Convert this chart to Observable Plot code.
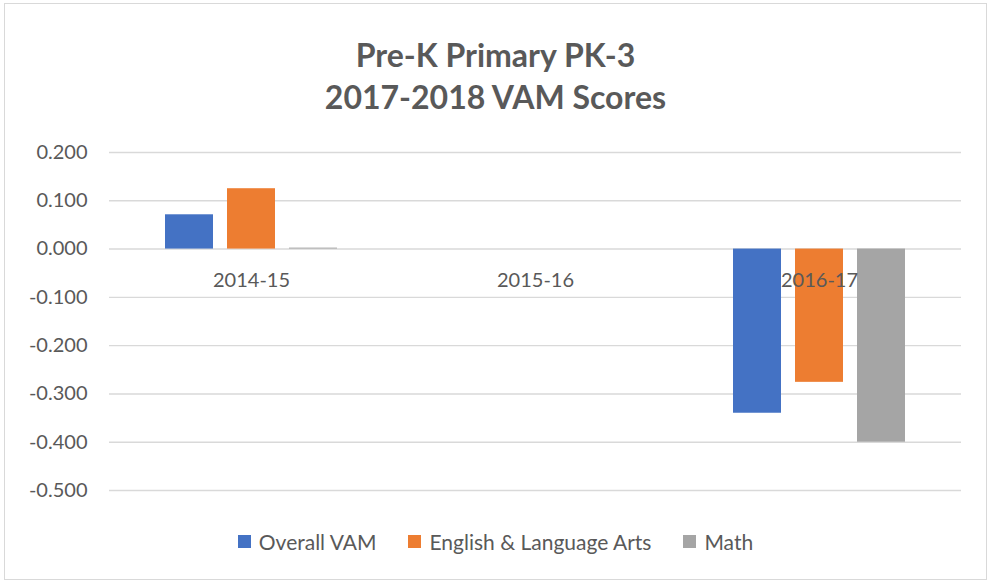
<!DOCTYPE html>
<html>
<head>
<meta charset="utf-8">
<script src="https://cdn.jsdelivr.net/npm/d3@7"></script>
<script src="https://cdn.jsdelivr.net/npm/@observablehq/plot@0.6"></script>
<style>
  body { margin: 0; background: #fff; }
  #wrap { position: relative; width: 991px; height: 583px; font-family: Lato, "Open Sans", sans-serif; color: #595959; overflow: hidden; }
  #frame { position: absolute; left: 4px; top: 3px; width: 983px; height: 577px; border: 1px solid #d9d9d9; box-sizing: border-box; }
  #chart { position: absolute; left: 0; top: 0; }
  #title { position: absolute; left: 0; width: 991px; top: 34px; text-align: center; font-weight: bold; font-size: 32px; line-height: 42px; }
  #legend { position: absolute; left: 0; width: 991px; top: 529px; display: flex; justify-content: center; gap: 32px; font-size: 21px; }
  #legend span.item { display: flex; align-items: center; }
  #legend span.sw { display: inline-block; width: 13px; height: 13px; margin-right: 8px; }
</style>
</head>
<body>
<div id="wrap">
  <div id="frame"></div>
  <div id="chart"></div>
  <div id="title">Pre-K Primary PK-3<br>2017-2018 VAM Scores</div>
  <div id="legend"></div>
</div>
<script>
const years = ["2014-15", "2015-16", "2016-17"];
const series = ["Overall VAM", "English & Language Arts", "Math"];
const overallVAM = [0.071, null, -0.340];
const englishLA = [0.125, null, -0.276];
const math = [0.002, null, -0.400];
const colors = ["#4472C4", "#ED7D31", "#A5A5A5"];
const yTicks = [0.2, 0.1, 0.0, -0.1, -0.2, -0.3, -0.4, -0.5];

const seriesValues = [overallVAM, englishLA, math];
const rows = [];
years.forEach((yr, i) => {
  series.forEach((s, j) => {
    const v = seriesValues[j][i];
    if (v !== null) rows.push({ year: yr, series: s, value: v });
  });
});

const chart = Plot.plot({
  width: 991,
  height: 583,
  marginLeft: 108,
  marginRight: 29,
  marginTop: 152,
  marginBottom: 93,
  style: { fontFamily: "Lato, 'Open Sans', sans-serif", fontSize: "20px", color: "#595959", background: "transparent" },
  fx: { domain: years, padding: 0, axis: null },
  x: { domain: series, axis: null, paddingInner: 0.222, paddingOuter: 0.87 },
  y: { domain: [-0.5, 0.2], ticks: yTicks, tickFormat: d => d.toFixed(3), tickSize: 0, tickPadding: 22, label: null },
  color: { domain: series, range: colors },
  marks: [
    Plot.ruleY(yTicks, { stroke: "#d9d9d9", strokeWidth: 1.4 }),
    Plot.barY(rows, { fx: "year", x: "series", y: "value", fill: "series" }),
    Plot.text(years, { fx: d => d, y: () => 0, text: d => d, dy: 32, fill: "#595959", fontSize: 20 })
  ]
});
document.getElementById("chart").appendChild(chart);

const legend = document.getElementById("legend");
series.forEach((s, j) => {
  const item = document.createElement("span");
  item.className = "item";
  const sw = document.createElement("span");
  sw.className = "sw";
  sw.style.background = colors[j];
  item.appendChild(sw);
  item.appendChild(document.createTextNode(s));
  legend.appendChild(item);
});
</script>
</body>
</html>
